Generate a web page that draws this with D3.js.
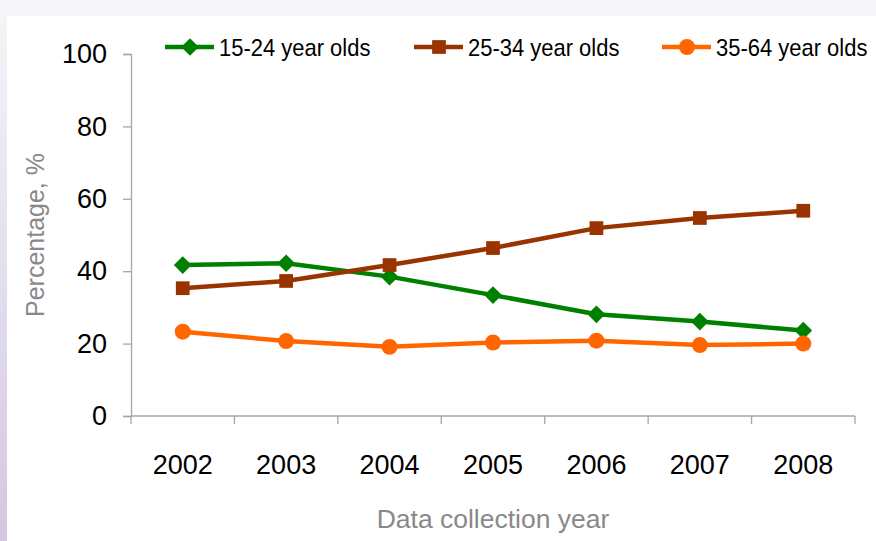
<!DOCTYPE html>
<html>
<head>
<meta charset="utf-8">
<script src="https://cdn.jsdelivr.net/npm/d3@7"></script>
<style>
  html, body { margin: 0; padding: 0; background: #ffffff; }
  svg { display: block; font-family: "Liberation Sans", Arial, sans-serif; }
</style>
</head>
<body>
<svg id="chart" width="876" height="541"></svg>
<script>
// Survey years and share of each age group (%)
const years = ["2002", "2003", "2004", "2005", "2006", "2007", "2008"];
const age15to24 = [41.7, 42.2, 38.5, 33.4, 28.1, 26.1, 23.6];
const age25to34 = [35.3, 37.3, 41.7, 46.4, 51.9, 54.7, 56.7];
const age35to64 = [23.3, 20.7, 19.1, 20.3, 20.8, 19.6, 20.0];
const seriesNames = ["15-24 year olds", "25-34 year olds", "35-64 year olds"];
const yTicks = [0, 20, 40, 60, 80, 100];

const series = [
  { name: seriesNames[0], values: age15to24, color: "#008000", symbol: d3.symbolDiamond2, size: 200 },
  { name: seriesNames[1], values: age25to34, color: "#993300", symbol: d3.symbolSquare2, size: 240 },
  { name: seriesNames[2], values: age35to64, color: "#ff6600", symbol: d3.symbolCircle, size: 200 }
];

const svg = d3.select("#chart");
const W = 876, H = 541;

// slide frame: pale top band and lavender left edge
const defs = svg.append("defs");
const grad = defs.append("linearGradient").attr("id", "edge").attr("x1", 0).attr("y1", 0).attr("x2", 0).attr("y2", 1);
grad.append("stop").attr("offset", "0%").attr("stop-color", "#f6f5f8");
grad.append("stop").attr("offset", "100%").attr("stop-color", "#d3c7e3");
svg.append("rect").attr("x", 0).attr("y", 0).attr("width", W).attr("height", 16).attr("fill", "#f7f7f9");
svg.append("rect").attr("x", 0).attr("y", 0).attr("width", 7).attr("height", H).attr("fill", "url(#edge)");

const plot = { left: 131, right: 855, top: 54, bottom: 416 };

const x = d3.scaleBand().domain(years).range([plot.left, plot.right]).paddingInner(0).paddingOuter(0);
const y = d3.scaleLinear().domain([0, 100]).range([plot.bottom, plot.top]);
const cx = d => x(d) + x.bandwidth() / 2;

const axisColor = "#a6a6a6";

// y axis
const yAxis = svg.append("g").attr("transform", `translate(${plot.left},0)`)
  .call(d3.axisLeft(y).tickValues(yTicks).tickSize(8).tickPadding(16).tickFormat(d3.format("d")));
yAxis.select(".domain").attr("stroke", axisColor).attr("stroke-width", 1.3);
yAxis.selectAll(".tick line").attr("stroke", axisColor).attr("stroke-width", 1.3);
yAxis.selectAll(".tick text").attr("fill", "#000").attr("font-size", 27).attr("font-family", "Liberation Sans, Arial, sans-serif");

// x axis with ticks at category boundaries
const xAxis = svg.append("g").attr("transform", `translate(0,${plot.bottom})`);
xAxis.append("line").attr("x1", plot.left).attr("x2", plot.right).attr("y1", 0).attr("y2", 0)
  .attr("stroke", axisColor).attr("stroke-width", 1.3);
const boundaries = years.map(d => x(d)).concat([plot.right]);
xAxis.selectAll("line.tk").data(boundaries).join("line").attr("class", "tk")
  .attr("x1", d => d).attr("x2", d => d).attr("y1", 0).attr("y2", 8)
  .attr("stroke", axisColor).attr("stroke-width", 1.3);
xAxis.selectAll("text").data(years).join("text")
  .attr("x", d => cx(d)).attr("y", 58).attr("text-anchor", "middle")
  .attr("font-size", 27).attr("fill", "#000").text(d => d);

// axis titles
svg.append("text").attr("transform", "translate(44,235) rotate(-90)")
  .attr("text-anchor", "middle").attr("font-size", 25).attr("fill", "#898989")
  .text("Percentage, %");
svg.append("text")
  .attr("transform", `translate(${(plot.left + plot.right) / 2},528)`)
  .attr("text-anchor", "middle").attr("font-size", 26.5).attr("fill", "#898989")
  .text("Data collection year");

// series lines and markers
const line = d3.line().x((d, i) => cx(years[i])).y(d => y(d));
series.forEach(s => {
  svg.append("path").datum(s.values).attr("d", line)
    .attr("fill", "none").attr("stroke", s.color).attr("stroke-width", 4.5).attr("stroke-linejoin", "round");
  svg.append("g").selectAll("path").data(s.values).join("path")
    .attr("transform", (d, i) => `translate(${cx(years[i])},${y(d)})`)
    .attr("d", d3.symbol().type(s.symbol).size(s.size)())
    .attr("fill", s.color);
});

// legend (condensed labels)
const legendX = [165, 414, 662];
series.forEach((s, i) => {
  const g = svg.append("g").attr("transform", `translate(${legendX[i]},47)`);
  g.append("line").attr("x1", 0).attr("x2", 49).attr("y1", 0).attr("y2", 0)
    .attr("stroke", s.color).attr("stroke-width", 4.5);
  g.append("path").attr("transform", "translate(25,0)")
    .attr("d", d3.symbol().type(s.symbol).size(s.size)()).attr("fill", s.color);
  g.append("text").attr("transform", "translate(54,8.5) scale(0.915,1)")
    .attr("font-size", 24).attr("fill", "#000")
    .text(s.name);
});
</script>
</body>
</html>
